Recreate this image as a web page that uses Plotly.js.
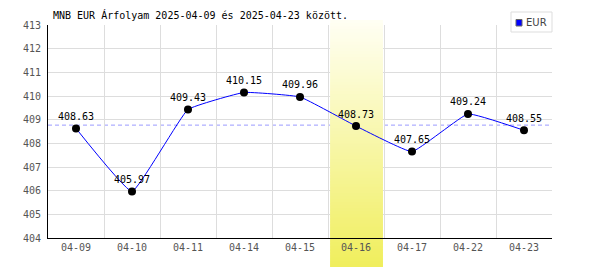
<!DOCTYPE html>
<html>
<head>
<meta charset="utf-8">
<script src="https://cdn.plot.ly/plotly-3.0.1.min.js"></script>
<style>html,body{margin:0;padding:0;background:#fff;}#chart{width:600px;height:270px;}</style>
</head>
<body>
<div id="chart"></div>
<script>
// ---- data ----
const categories = ["04-09","04-10","04-11","04-14","04-15","04-16","04-17","04-22","04-23"];
const eurValues = [408.63, 405.97, 409.43, 410.15, 409.96, 408.73, 407.65, 409.24, 408.55];
const valueLabels = ["408.63","405.97","409.43","410.15","409.96","408.73","407.65","409.24","408.55"];
const referenceLevel = 408.77;
const highlightCategory = "04-16";
const seriesName = "EUR";
const titleText = "MNB EUR Árfolyam 2025-04-09 és 2025-04-23 között.";
const yRange = [404, 413];

// ---- layout geometry ----
const W = 600, H = 270, M = {l: 48, r: 48, t: 25, b: 32};
const PW = W - M.l - M.r, PH = H - M.t - M.b;
const pxX = x => (x - M.l) / PW;           // pixel -> paper x
const pxY = y => (H - M.b - y) / PH;       // pixel -> paper y
const mono = "DejaVu Sans Mono, monospace";

// highlight band with vertical gradient built from overlapping strips
const hi = categories.indexOf(highlightCategory);
const bandL = hi - 0.46, bandR = hi + 0.48;
const topC = [255, 255, 244], botC = [240, 238, 92];
const gTop = pxY(20), gBot = pxY(267);
function colAt(p) {
  const t = Math.min(1, Math.max(0, (gTop - p) / (gTop - gBot)));
  const c = topC.map((v, i) => Math.round(v + (botC[i] - v) * t));
  return `rgb(${c[0]},${c[1]},${c[2]})`;
}
const shapes = [];
shapes.push({type: "line", xref: "paper", x0: 0, x1: 1, yref: "y", y0: referenceLevel, y1: referenceLevel,
  line: {color: "#9a9aff", width: 1, dash: "4px,3px"}, layer: "below"});
const N = 80;
const step = (gTop - gBot) / N;
const toY = p => yRange[0] + p * (yRange[1] - yRange[0]);
for (let i = 0; i < N; i++) {
  const p1 = gTop - i * step;
  const p0 = Math.max(gBot, gTop - (i + 2) * step); // overlap next strip to avoid seams
  const col = colAt(gTop - (i + 0.5) * step);
  const a = Math.max(p0, 0), b = Math.min(p1, 1);
  if (b > a) {
    shapes.push({type: "rect", xref: "x", yref: "y", x0: bandL, x1: bandR,
      y0: toY(a), y1: toY(b), fillcolor: col, line: {width: 0}, layer: "between"});
  }
  if (p1 > 1) {
    shapes.push({type: "rect", xref: "paper", yref: "paper", x0: (bandL + 0.5) / 9, x1: (bandR + 0.5) / 9,
      y0: Math.max(p0, 1), y1: p1, fillcolor: col, line: {width: 0}, layer: "below"});
  }
  if (p0 < 0) {
    shapes.push({type: "rect", xref: "paper", yref: "paper", x0: (bandL + 0.5) / 9, x1: (bandR + 0.5) / 9,
      y0: p0, y1: Math.min(p1, 0), fillcolor: col, line: {width: 0}, layer: "below"});
  }
}
// manual legend box
shapes.push({type: "rect", xref: "paper", yref: "paper", x0: pxX(511), x1: pxX(552), y0: pxY(32), y1: pxY(12),
  fillcolor: "#ffffff", line: {color: "#dddddd", width: 1}, layer: "above"});
shapes.push({type: "rect", xref: "paper", yref: "paper", x0: pxX(516), x1: pxX(522), y0: pxY(26), y1: pxY(19.5),
  fillcolor: "#0000ff", line: {color: "#666666", width: 1}, layer: "above"});

const trace = {
  x: categories, y: eurValues, text: valueLabels,
  type: "scatter", mode: "lines+markers+text", name: seriesName,
  line: {color: "#0000ff", width: 1, shape: "spline", smoothing: 0.3},
  marker: {color: "#000000", size: 8},
  textposition: "top center",
  textfont: {family: mono, size: 10, color: "#000000"},
  cliponaxis: false, showlegend: false, hoverinfo: "skip"
};

const layout = {
  width: W, height: H,
  margin: M,
  paper_bgcolor: "#ffffff", plot_bgcolor: "#ffffff",
  showlegend: false,
  title: {text: titleText, x: 53 / W, xanchor: "left", xref: "container",
    y: 1 - 15 / H, yanchor: "middle", yref: "container",
    font: {family: mono, size: 10, color: "#000000"}},
  xaxis: {type: "category", range: [-0.5, 8.5], tickson: "boundaries",
    showgrid: true, gridcolor: "#dddddd", gridwidth: 1,
    showline: true, linecolor: "#000000", linewidth: 1,
    ticks: "", tickfont: {family: mono, size: 10, color: "#555555"},
    zeroline: false, fixedrange: true},
  yaxis: {range: yRange, dtick: 1, tick0: 404,
    showgrid: true, gridcolor: "#dddddd", gridwidth: 1,
    showline: true, linecolor: "#000000", linewidth: 1,
    ticks: "", ticklabelstandoff: 4,
    tickfont: {family: mono, size: 10, color: "#555555"},
    zeroline: false, fixedrange: true},
  shapes: shapes,
  annotations: [{xref: "paper", yref: "paper", x: pxX(524), y: pxY(22.5), xanchor: "left", yanchor: "middle",
    text: seriesName, showarrow: false, font: {family: "DejaVu Sans, sans-serif", size: 10, color: "#444444"}}]
};

Plotly.newPlot("chart", [trace], layout, {displayModeBar: false, staticPlot: true});
</script>
</body>
</html>
